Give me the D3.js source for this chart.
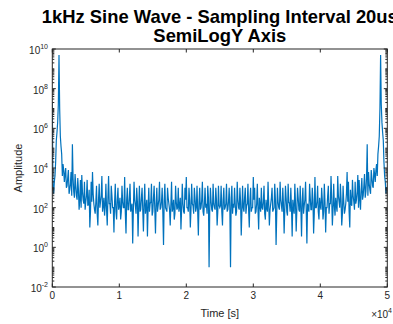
<!doctype html>
<html>
<head>
<meta charset="utf-8"/>
<script src="https://d3js.org/d3.v7.min.js"></script>
<style>
    body { margin: 0; background: #fff; }
    text { font-family: "Liberation Sans", Arial, sans-serif; fill: #262626; }
</style>
</head>
<body>
<script>
    // textos
    const titleLines = ["1kHz Sine Wave - Sampling Interval 20us", "SemiLogY Axis"];
    const xLabel = "Time [s]";
    const yLabel = "Amplitude";
    const xTicks = [0, 10000, 20000, 30000, 40000, 50000];
    const xTickLabels = ["0", "1", "2", "3", "4", "5"];
    const yExponents = [-2, 0, 2, 4, 6, 8, 10];
    const xExponent = "4";

    // muestras cada 200 puntos (x = 0, 200, ...), valores en log10 de la amplitud
    const sampleStep = 200;
    const logAmp = [
        7.3, 2.7, 3.6, 5.4, 6.3, 9.7, 5.6, 4.7, 4.2, 3.3,
        4.0, 3.1, 3.9, 2.9, 3.8, 5.2, 2.8, 3.7, 2.6, 3.5,
        1.9, 3.4, 3.65, 2.4, 3.3, 2.3, 3.4, 2.2, 1.0, 3.3,
        3.8, 2.2, 1.7, 3.1, 1.1, 3.2, 2.3, 3.6, 2.1, 1.6,
        3.2, 1.1, 3.6, 2.2, 3.1, 2.0, 0.75, 3.2, 1.4, 3.0,
        2.1, 1.4, 3.1, 2.0, 3.55, 0.7, 3.0, 1.9, 3.2, 2.0,
        0.2, 3.3, 2.1, 3.0, 0.55, 3.1, 1.9, 3.0, 0.8, 3.2,
        2.0, 0.55, 3.0, 2.2, 3.2, 1.8, 3.1, 0.7, 3.0, 2.1,
        3.3, 2.0, 3.0, 0.12, 3.2, 1.9, 3.0, 2.2, 1.1, 3.3,
        2.0, 1.4, 3.1, 1.9, 3.0, 2.1, 0.9, 3.2, 1.8, 3.0,
        3.55, 2.0, 3.0, 1.0, 3.2, 2.1, 3.0, 1.8, 3.1, 0.6,
        3.0, 2.0, 3.3, 1.6, 3.0, 2.2, 3.1, -1.0, 3.0, 1.9,
        3.2, 2.0, 3.0, 1.1, 3.1, 2.0, 3.1, 1.1, 3.0, 2.0,
        3.2, 1.9, 3.0, -1.0, 3.1, 2.2, 3.0, 1.6, 3.3, 2.0,
        3.0, 0.6, 3.1, 1.8, 3.0, 2.1, 3.2, 1.0, 3.0, 2.0,
        3.55, 3.0, 1.8, 3.2, 0.9, 2.1, 3.0, 1.9, 3.1, 1.4,
        2.0, 3.3, 1.1, 2.2, 3.0, 1.9, 3.2, 0.12, 3.0, 2.0,
        3.3, 2.1, 3.0, 0.7, 3.1, 1.8, 3.2, 2.2, 3.0, 0.55,
        2.0, 3.2, 0.8, 3.0, 1.9, 3.1, 0.55, 3.0, 2.1, 3.3,
        0.2, 2.0, 3.2, 1.9, 3.0, 0.7, 3.55, 2.0, 3.1, 1.4,
        2.1, 3.0, 1.4, 3.2, 0.75, 2.0, 3.1, 2.2, 3.6, 1.1,
        3.2, 1.6, 2.1, 3.6, 2.3, 3.2, 1.1, 3.1, 1.7, 2.2,
        3.8, 3.3, 1.0, 2.2, 3.4, 2.3, 3.3, 2.4, 3.65, 3.4,
        1.9, 3.5, 2.6, 3.7, 2.8, 5.2, 3.8, 2.9, 3.9, 3.1,
        4.0, 3.3, 4.2, 4.7, 5.6, 9.7, 6.3, 5.4, 3.6, 2.7,
        3.0
    ];
    // muestras intermedias (x = 100, 300, ...)
    const logAmpMid = [
        3.0, 3.3, 4.3, 5.8, 7.2, 7.0, 5.1, 3.6, 3.9, 3.7,
        3.0, 3.5, 2.7, 3.2, 2.6, 3.5, 2.5, 3.1, 2.4, 2.9,
        2.4, 2.0, 2.8, 2.2, 1.9, 2.6, 2.1, 2.9, 1.8, 2.3,
        2.7, 1.9, 2.3, 1.7, 2.4, 2.0, 2.6, 1.8, 2.5, 2.1,
        1.9, 2.5, 2.2, 1.7, 2.6, 2.0, 2.3, 1.8, 2.4, 1.9,
        2.5, 1.8, 2.3, 2.0, 1.7, 2.4, 1.9, 2.5, 1.8, 2.2,
        1.9, 2.4, 1.7, 2.3, 2.0, 1.8, 2.5, 1.9, 2.2, 1.7,
        2.4, 2.0, 1.8, 2.3, 1.6, 2.5, 1.9, 2.2, 1.8, 2.4,
        1.9, 2.3, 1.7, 2.4, 2.0, 1.8, 2.5, 1.9, 2.2, 1.8,
        2.4, 1.7, 2.3, 2.0, 1.8, 2.5, 1.9, 2.2, 1.7, 2.4,
        2.0, 1.8, 2.4, 1.9, 2.2, 1.7, 2.5, 2.0, 1.8, 2.3,
        1.9, 2.4, 1.8, 2.2, 2.0, 1.7, 2.5, 1.9, 2.3, 1.8,
        2.2, 1.9, 2.4, 1.8, 2.1,
        2.1, 1.8, 2.4, 1.9, 2.2,
        1.8, 2.3, 1.9, 2.5, 1.7, 2.0, 2.2, 1.8, 2.4, 1.9,
        2.3, 1.8, 2.0, 2.5, 1.7, 2.2, 1.9, 2.4, 1.8, 2.0,
        2.4, 1.7, 2.2, 1.9, 2.5, 1.8, 2.0, 2.3, 1.7, 2.4,
        1.8, 2.2, 1.9, 2.5, 1.8, 2.0, 2.4, 1.7, 2.3, 1.9,
        2.4, 1.8, 2.2, 1.9, 2.5, 1.6, 2.3, 1.8, 2.0, 2.4,
        1.7, 2.2, 1.9, 2.5, 1.8, 2.0, 2.3, 1.7, 2.4, 1.9,
        2.2, 1.8, 2.5, 1.9, 2.4, 1.7, 2.0, 2.3, 1.8, 2.5,
        1.9, 2.4, 1.8, 2.3, 2.0, 2.6, 1.7, 2.2, 2.5, 1.9,
        2.1, 2.5, 1.8, 2.6, 2.0, 2.4, 1.7, 2.3, 1.9, 2.7,
        2.3, 1.8, 2.9, 2.1, 2.6, 1.9, 2.2, 2.8, 2.0, 2.4,
        2.9, 2.4, 3.1, 2.5, 3.5, 2.6, 3.2, 2.7, 3.5, 3.0,
        3.7, 3.9, 3.6, 5.1, 7.0, 7.2, 5.8, 4.3, 3.3, 3.0
    ];

    // juntamos las dos listas en una sola serie ordenada
    const series = [];
    logAmp.forEach(function (v, i) {
        series.push({x: i * sampleStep, v: v});
        if (i < logAmpMid.length) series.push({x: i * sampleStep + sampleStep / 2, v: logAmpMid[i]});
    });

    const width = 393, height = 324;
    const margin = {left: 52.3, right: 5.7, top: 49, bottom: 37};

    const svg = d3.select("body").append("svg")
        .attr("width", width)
        .attr("height", height);

    const x = d3.scaleLinear().domain([0, 50000]).range([margin.left, width - margin.right]);
    const y = d3.scaleLog().domain([1e-2, 1e10]).range([height - margin.bottom, margin.top]);

    const x0 = x.range()[0], x1 = x.range()[1];
    const y0 = y.range()[0], y1 = y.range()[1];
    const axisColor = "#262626";

    svg.append("clipPath").attr("id", "plotClip")
        .append("rect").attr("x", x0).attr("y", y1).attr("width", x1 - x0).attr("height", y0 - y1);

    // linea de datos
    const line = d3.line()
        .x(d => x(d.x))
        .y(d => y(Math.pow(10, d.v)));

    svg.append("path")
        .datum(series)
        .attr("clip-path", "url(#plotClip)")
        .attr("d", line)
        .attr("fill", "none")
        .attr("stroke", "#0072BD")
        .attr("stroke-width", 1.2)
        .attr("stroke-linejoin", "miter");

    // caja
    svg.append("rect")
        .attr("x", x0).attr("y", y1)
        .attr("width", x1 - x0).attr("height", y0 - y1)
        .attr("fill", "none").attr("stroke", axisColor).attr("stroke-width", 1);

    // ticks x (abajo y arriba)
    const tickG = svg.append("g").attr("stroke", axisColor).attr("stroke-width", 1);
    xTicks.forEach(t => {
        tickG.append("line").attr("x1", x(t)).attr("x2", x(t)).attr("y1", y0).attr("y2", y0 - 3.5);
        tickG.append("line").attr("x1", x(t)).attr("x2", x(t)).attr("y1", y1).attr("y2", y1 + 3.5);
    });

    // ticks y mayores y menores
    for (let e = -2; e < 10; e++) {
        for (let m = 1; m <= 9; m++) {
            const v = m * Math.pow(10, e);
            const major = m === 1 && yExponents.includes(e);
            const len = major ? 3.5 : 2;
            tickG.append("line").attr("x1", x0).attr("x2", x0 + len).attr("y1", y(v)).attr("y2", y(v));
            tickG.append("line").attr("x1", x1).attr("x2", x1 - len).attr("y1", y(v)).attr("y2", y(v));
        }
    }
    tickG.append("line").attr("x1", x0).attr("x2", x0 + 3.5).attr("y1", y(1e10)).attr("y2", y(1e10));
    tickG.append("line").attr("x1", x1).attr("x2", x1 - 3.5).attr("y1", y(1e10)).attr("y2", y(1e10));

    // etiquetas x
    svg.selectAll(".xlab")
        .data(xTicks)
        .enter()
        .append("text")
        .attr("x", d => x(d))
        .attr("y", y0 + 12)
        .attr("text-anchor", "middle")
        .attr("font-size", 10)
        .text((d, i) => xTickLabels[i]);

    // etiquetas y con exponente
    yExponents.forEach(e => {
        const t = svg.append("text")
            .attr("x", 48)
            .attr("y", y(Math.pow(10, e)) + 5)
            .attr("text-anchor", "end")
            .attr("font-size", 10);
        t.append("tspan").text("10");
        t.append("tspan").attr("dy", -5).attr("font-size", 7).text(e < 0 ? "-" + (-e) : e);
    });

    // multiplicador x
    const mult = svg.append("text")
        .attr("x", 392)
        .attr("y", 318)
        .attr("text-anchor", "end")
        .attr("font-size", 10);
    mult.append("tspan").text("\u00d710");
    mult.append("tspan").attr("dy", -5).attr("font-size", 7).text(xExponent);

    // titulos de ejes
    svg.append("text")
        .attr("x", (x0 + x1) / 2)
        .attr("y", 317)
        .attr("text-anchor", "middle")
        .attr("font-size", 11)
        .text(xLabel);

    svg.append("text")
        .attr("transform", `translate(22, ${(y0 + y1) / 2}) rotate(-90)`)
        .attr("text-anchor", "middle")
        .attr("font-size", 11)
        .text(yLabel);

    // titulo (la primera linea queda cortada a la derecha como en el original)
    titleLines.forEach((s, i) => {
        svg.append("text")
            .attr("x", (x0 + x1) / 2)
            .attr("y", 23 + i * 19)
            .attr("text-anchor", "middle")
            .attr("font-size", 18.4)
            .attr("font-weight", "bold")
            .style("fill", "#000")
            .text(s);
    });
</script>
</body>
</html>
